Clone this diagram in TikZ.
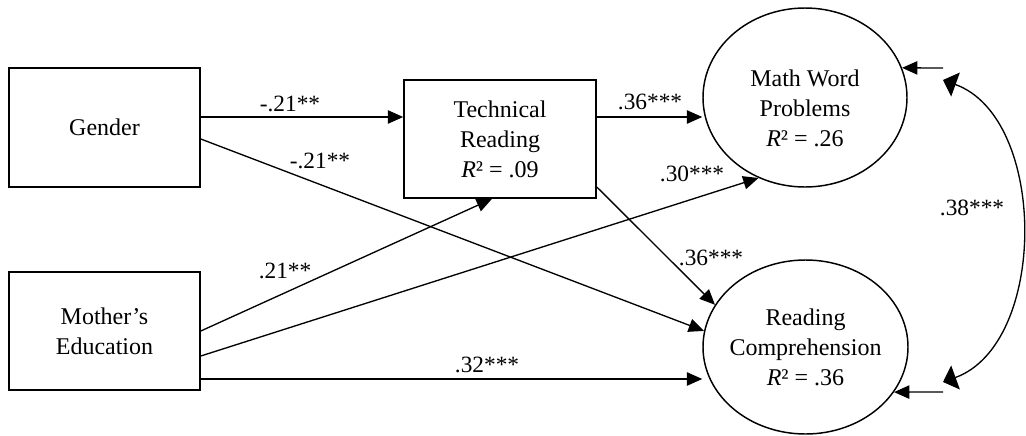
\documentclass[tikz,border=0pt]{standalone}
\usepackage{fontspec}
\setmainfont{Liberation Serif}
\usetikzlibrary{arrows.meta,calc,shapes.geometric}
\begin{document}
\begin{tikzpicture}[x=0.75pt,y=-0.75pt,
  box/.style={draw, line width=1.2pt, rectangle, inner sep=0pt, align=center, font=\fontsize{18}{22.5}\selectfont},
  oval/.style={draw, line width=1.1pt, ellipse, inner sep=0pt},
  txt/.style={align=center, inner sep=0pt, font=\fontsize{18}{22.5}\selectfont},
  lbl/.style={inner sep=0pt, font=\fontsize{17.5}{20}\selectfont},
  arr/.style={line width=1pt, -{Triangle[length=11.5pt,width=10pt]}},
  corr/.style={line width=1pt, {Triangle[length=10pt,width=19pt]}-{Triangle[length=10pt,width=19pt]}}]
\useasboundingbox (0,0) rectangle (1026,436);
% nodes
\node[box, minimum width=143.25pt, minimum height=89.25pt] (gender) at (104.5,127.5) {Gender};
\node[box, minimum width=143.25pt, minimum height=88.5pt] (mother) at (104.5,331) {Mother’s\\Education};
\node[box, minimum width=144pt, minimum height=88.5pt] (tech) at (500,139) {Technical\\Reading\\\textit{R}² = .09};
\node[oval, minimum width=153pt, minimum height=134.25pt] (mwp) at (805,97.5) {};
\node[txt] (mwpt) at (805,108) {Math Word\\Problems\\\textit{R}² = .26};
\node[oval, minimum width=153.75pt, minimum height=130.5pt] (rc) at (805.5,347) {};
\node[txt] (rct) at (805.5,347.5) {Reading\\Comprehension\\\textit{R}² = .36};
% free ends
\coordinate (d1) at (943,68);
\coordinate (d2) at (943,392);
\coordinate (c1) at (943,80);
\coordinate (c2) at (943,382);
% paths
\draw[arr] (gender.east |- 0,117) -- (tech.west |- 0,117);
\draw[arr] (gender.east |- 0,139) -- (rc.171);
\draw[arr] (mother.east |- 0,331) -- ($(tech.south)+(-8,0)$);
\draw[arr] (mother.east |- 0,356) -- (mwp.240);
\draw[arr] (mother.east |- 0,379) -- (rc.west |- 0,379);
\draw[arr] (tech.east |- 0,117) -- (mwp.west |- 0,117);
\draw[arr] (tech.east |- 0,187) -- (rc.155);
\draw[arr] (d1) -- (mwp.17);
\draw[arr] (d2) -- (rc.333);
\draw[corr] (c1) .. controls (1048,118) and (1048,344) .. (c2);
% labels
\node[lbl] (l1) at (290,104) {-.21**};
\node[lbl] (l2) at (320,161) {-.21**};
\node[lbl] (l3) at (285,271) {.21**};
\node[lbl] (l4) at (650,102) {.36***};
\node[lbl] (l5) at (692,174) {.30***};
\node[lbl] (l6) at (711,258) {.36***};
\node[lbl] (l7) at (487,365) {.32***};
\node[lbl] (l8) at (972,208) {.38***};
\end{tikzpicture}
\end{document}
